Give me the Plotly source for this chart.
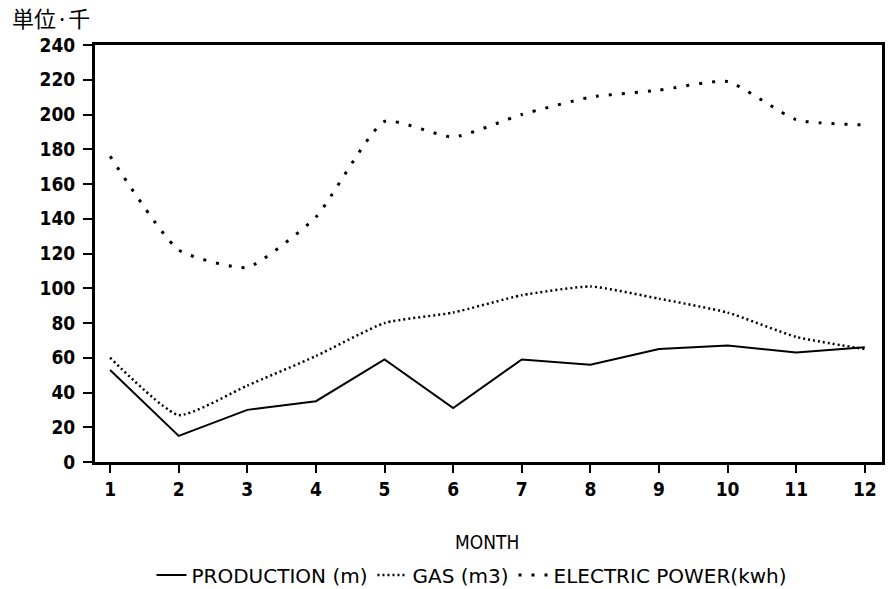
import plotly.graph_objects as go

months = list(range(1, 13))
production = [53, 15, 30, 35, 59, 31, 59, 56, 65, 67, 63, 66]
gas = [60, 27, 44, 61, 80, 86, 96, 101, 94, 86, 72, 65]
electric = [176, 122, 112, 141, 196, 187, 200, 210, 214, 219, 197, 194]
y_ticks = list(range(0, 241, 20))

font_fam = "DejaVu Sans Condensed, DejaVu Sans, sans-serif"
legend_fam = "DejaVu Sans, sans-serif"

fig = go.Figure()
fig.add_trace(go.Scatter(x=months, y=production, mode="lines", name="PRODUCTION (m)",
                         line=dict(color="black", width=2, dash="solid")))
fig.add_trace(go.Scatter(x=months, y=gas, mode="lines", name="GAS (m3)",
                         line=dict(color="black", width=2.5, dash="2px,3px", shape="spline", smoothing=0.5)))
fig.add_trace(go.Scatter(x=months, y=electric, mode="lines", name="ELECTRIC POWER(kwh)",
                         line=dict(color="black", width=3, dash="3px,10px", shape="spline", smoothing=0.5)))

fig.update_layout(
    width=889, height=589,
    margin=dict(l=95, r=4, t=45, b=127),
    paper_bgcolor="white", plot_bgcolor="white",
    font=dict(family=font_fam, color="black", size=15),
    showlegend=True,
    legend=dict(orientation="h", x=472 / 889, y=(589 - 575) / 589, xref="container", yref="container",
                xanchor="center", yanchor="middle",
                font=dict(size=20, family=legend_fam), itemwidth=30, bgcolor="rgba(0,0,0,0)"),
    annotations=[
        dict(text="単位·千", x=(10 - 95) / 790, y=1 + 28 / 417, xref="paper", yref="paper", showarrow=False,
             xanchor="left", yanchor="middle",
             font=dict(family="Noto Sans CJK JP", size=22, color="black")),
        dict(text="MONTH", x=(488 - 95) / 790, y=-(542 - 462) / 417, xref="paper", yref="paper", showarrow=False,
             xanchor="center", yanchor="middle", font=dict(size=19, family=font_fam)),
    ],
)

fig.update_xaxes(range=[0.78, 12.25], tickmode="array", tickvals=months,
                 ticktext=[str(m) for m in months],
                 showline=True, linewidth=3, linecolor="black", mirror=True,
                 ticks="outside", ticklen=8, tickwidth=2, tickcolor="black",
                 showgrid=False, zeroline=False,
                 tickfont=dict(size=19, family=font_fam, weight="bold"))
fig.update_yaxes(range=[0, 240], tickmode="array", tickvals=y_ticks,
                 ticktext=[str(v) for v in y_ticks],
                 showline=True, linewidth=3, linecolor="black", mirror=True,
                 ticks="outside", ticklen=9, tickwidth=2, tickcolor="black",
                 ticklabelstandoff=4,
                 showgrid=False, zeroline=False,
                 tickfont=dict(size=19, family=font_fam, weight="bold"))

fig.write_html("out.html", config={"displayModeBar": False},
               post_script="document.body.style.margin='0';document.body.style.overflow='hidden';")
